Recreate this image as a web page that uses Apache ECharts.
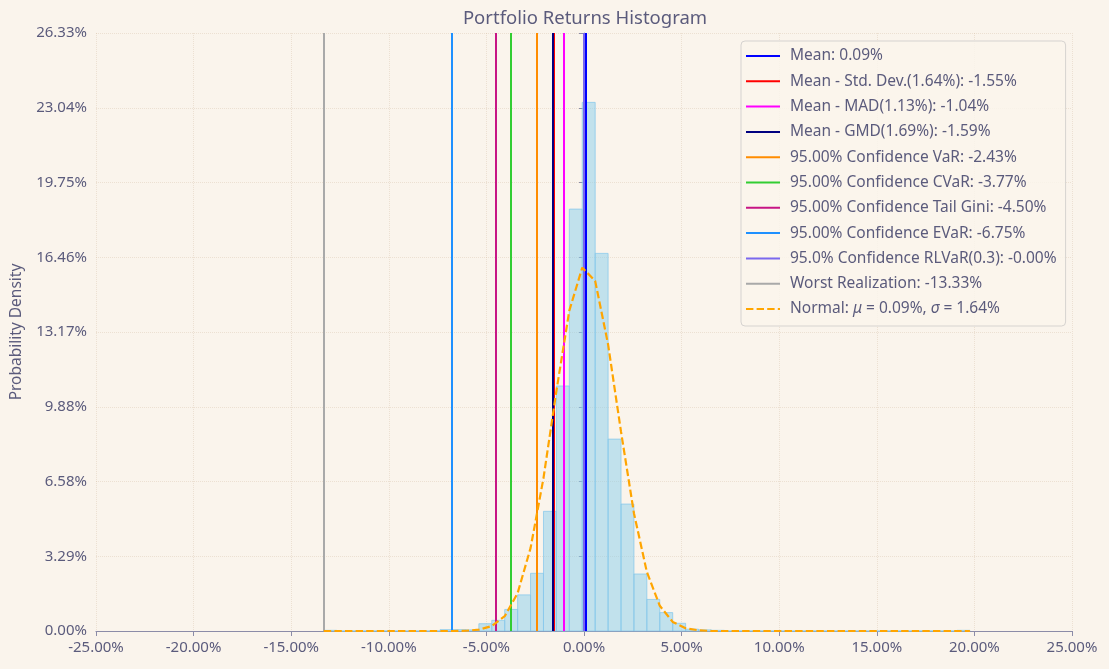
<!DOCTYPE html>
<html>
<head>
<meta charset="utf-8">
<script src="https://cdn.jsdelivr.net/npm/echarts@6/dist/echarts.min.js"></script>
<style>
html,body{margin:0;padding:0;background:#faf4ec;}
#chart{width:1109px;height:669px;}
</style>
</head>
<body>
<div id="chart"></div>
<script>
// ---- data ----
const binStart = -13.33;          // first bin edge (%)
const binWidth = 0.662;           // bin width (%)
const histHeights = [
  0.03, 0, 0, 0, 0, 0, 0, 0, 0, 0.06,
  0.06, 0.05, 0.32, 0.47, 0.95, 1.59, 2.54, 5.27, 10.79, 18.58,
  23.28, 16.63, 8.45, 5.59, 2.51, 1.39, 0.81, 0.34, 0.08, 0.05,
  0.03, 0, 0, 0, 0, 0, 0, 0, 0, 0,
  0, 0, 0, 0, 0, 0, 0, 0, 0, 0.03
];
// normal curve read at each bin edge (51 points)
const normalValues = [
  0, 0, 0, 0, 0, 0, 0, 0, 0, 0,
  0, 0.01, 0.06, 0.22, 0.65, 1.67, 3.65, 6.73, 10.57, 14.11,
  16.0, 15.42, 12.62, 8.78, 5.19, 2.6, 1.11, 0.4, 0.12, 0.03,
  0, 0, 0, 0, 0, 0, 0, 0, 0, 0,
  0, 0, 0, 0, 0, 0, 0, 0, 0, 0, 0
];
const riskNames = [
  'Mean: 0.09%',
  'Mean - Std. Dev.(1.64%): -1.55%',
  'Mean - MAD(1.13%): -1.04%',
  'Mean - GMD(1.69%): -1.59%',
  '95.00% Confidence VaR: -2.43%',
  '95.00% Confidence CVaR: -3.77%',
  '95.00% Confidence Tail Gini: -4.50%',
  '95.00% Confidence EVaR: -6.75%',
  '95.0% Confidence RLVaR(0.3): -0.00%',
  'Worst Realization: -13.33%'
];
const riskValues = [0.09, -1.55, -1.04, -1.59, -2.43, -3.77, -4.50, -6.75, -0.00, -13.33];
const riskColors = ['#0000ff', '#ff0000', '#ff00ff', '#000080', '#ff8c00', '#32cd32', '#c71585', '#1e90ff', '#7b68ee', '#a9a9a9'];
const normalName = 'Normal: μ = 0.09%, σ = 1.64%';
const xMin = -25, xMax = 25, xInterval = 5;
const yTickLabels = ['0.00%', '3.29%', '6.58%', '9.88%', '13.17%', '16.46%', '19.75%', '23.04%', '26.33%'];
const yMax = 26.335;

// ---- build ----
const txt = '#5b5b7c';
const axisCol = '#8c8ca8';
const font = 'Noto Sans';
const yInterval = yMax / (yTickLabels.length - 1);

const histData = histHeights.map((h, i) => [binStart + i * binWidth, binStart + (i + 1) * binWidth, h]);
const normalData = normalValues.map((v, i) => [binStart + i * binWidth, v]);

const series = [];
series.push({
  type: 'custom',
  silent: true,
  z: 1,
  data: histData,
  encode: {x: [0, 1], y: 2},
  renderItem: function (params, api) {
    const p0 = api.coord([api.value(0), 0]);
    const p1 = api.coord([api.value(1), api.value(2)]);
    return {
      type: 'rect',
      shape: {x: p0[0], y: p1[1], width: p1[0] - p0[0], height: p0[1] - p1[1]},
      style: {fill: 'rgba(135,206,235,0.5)', stroke: 'rgba(135,200,235,0.75)', lineWidth: 1}
    };
  }
});
riskNames.forEach((n, i) => {
  series.push({
    name: n,
    type: 'line',
    data: [],
    symbol: 'none',
    color: riskColors[i],
    lineStyle: {color: riskColors[i], width: 2},
    z: 3,
    markLine: {
      silent: true,
      z: 5 + i,
      symbol: ['none', 'none'],
      label: {show: false},
      animation: false,
      lineStyle: {color: riskColors[i], width: 2, type: 'solid'},
      data: [{xAxis: riskValues[i]}]
    }
  });
});
series.push({
  name: normalName,
  type: 'line',
  data: normalData,
  symbol: 'none',
  color: '#ffa500',
  lineStyle: {color: '#ffa500', width: 2.2, type: [7.4, 3.2]},
  z: 30,
  silent: true
});

const chart = echarts.init(document.getElementById('chart'), null, {renderer: 'canvas'});
chart.setOption({
  animation: false,
  backgroundColor: '#faf4ec',
  textStyle: {fontFamily: font},
  title: {
    text: 'Portfolio Returns Histogram',
    left: 580, top: 4, textAlign: 'center',
    textStyle: {fontFamily: font, fontSize: 18.5, fontWeight: 'normal', color: txt}
  },
  grid: {left: 96, right: 37, top: 33, bottom: 38, containLabel: false, outerBoundsMode: 'none'},
  legend: {
    orient: 'vertical',
    left: 741, top: 41,
    padding: [7, 9, 9, 4],
    itemWidth: 34, itemHeight: 14, itemGap: 9.3,
    backgroundColor: 'rgba(250,244,236,0.85)',
    borderColor: '#d6d3d0', borderWidth: 1, borderRadius: 4,
    selectedMode: false,
    itemStyle: {opacity: 0},
    data: riskNames.concat([normalName]),
    textStyle: {
      fontFamily: font, fontSize: 15.5, color: txt, padding: [0, 0, 0, 5],
      rich: {
        n: {fontFamily: font, fontSize: 15.5, color: txt},
        i: {fontFamily: font, fontSize: 15.5, color: txt, fontStyle: 'italic'}
      }
    },
    formatter: function (name) {
      if (name === normalName) {
        return '{n|Normal: }{i|μ}{n| = 0.09%, }{i|σ}{n| = 1.64%}';
      }
      return name;
    }
  },
  xAxis: {
    type: 'value', min: xMin, max: xMax, interval: xInterval,
    axisLine: {show: true, onZero: false, lineStyle: {color: axisCol, width: 1.2}},
    axisTick: {show: true, length: 5, lineStyle: {color: axisCol}},
    axisLabel: {color: txt, fontSize: 15, fontFamily: font, margin: 9,
      formatter: v => v.toFixed(2) + '%'},
    splitLine: {show: true, lineStyle: {color: 'rgba(205,180,150,0.3)', type: 'dotted'}}
  },
  yAxis: {
    type: 'value', min: 0, max: yMax, interval: yInterval,
    name: 'Probability Density', nameLocation: 'middle', nameGap: 71,
    nameTextStyle: {color: txt, fontSize: 15.5, fontFamily: font},
    axisLine: {show: true, lineStyle: {color: axisCol, width: 1.2}},
    axisTick: {show: true, length: 5, lineStyle: {color: axisCol}},
    axisLabel: {color: txt, fontSize: 15, fontFamily: font, margin: 9,
      formatter: v => yTickLabels[Math.round(v / yInterval)] || ''},
    splitLine: {show: true, lineStyle: {color: 'rgba(205,180,150,0.3)', type: 'dotted'}}
  },
  series: series
});
</script>
</body>
</html>
